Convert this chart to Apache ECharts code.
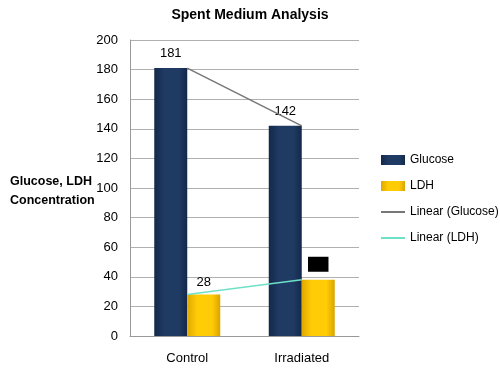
<!DOCTYPE html>
<html>
<head>
<meta charset="utf-8">
<script src="https://cdn.jsdelivr.net/npm/echarts@6/dist/echarts.min.js"></script>
<style>
  html, body { margin: 0; padding: 0; background: #fff; }
  #chart { width: 500px; height: 370px; }
</style>
</head>
<body>
<div id="chart"></div>
<script>
const categories = ['Control', 'Irradiated'];
const glucose = [181, 142];
const ldh = [28, 38];
const glucoseTrend = [181, 142];
const ldhTrend = [28, 38];

const chart = echarts.init(document.getElementById('chart'));
const font = 'Liberation Sans, Arial, sans-serif';
const lineIcon = 'path://M0,0 L24,0 L24,2 L0,2 Z';

const option = {
    backgroundColor: '#fff',
    title: {
        text: 'Spent Medium Analysis',
        left: 'center',
        top: 3,
        textStyle: { fontFamily: font, fontSize: 14, fontWeight: 'bold', color: '#000' }
    },
    graphic: [{
        type: 'text',
        left: 10,
        top: 172,
        style: {
            text: 'Glucose, LDH\nConcentration',
            font: 'bold 12.5px ' + font,
            fill: '#000',
            align: 'center',
            lineHeight: 19
        }
    }],
    legend: {
        orient: 'vertical',
        left: 376,
        top: 149,
        itemGap: 14,
        itemWidth: 24,
        itemHeight: 10,
        textStyle: { fontFamily: font, fontSize: 12, color: '#000' },
        data: [
            { name: 'Glucose', icon: 'rect' },
            { name: 'LDH', icon: 'rect' },
            { name: 'Linear (Glucose)', icon: lineIcon, itemStyle: { color: '#777' } },
            { name: 'Linear (LDH)', icon: lineIcon, itemStyle: { color: '#6fe0c8' } }
        ]
    },
    grid: { left: 130, right: 141, top: 40, bottom: 34 },
    xAxis: {
        type: 'category',
        data: categories,
        axisLine: { lineStyle: { color: '#999' } },
        axisTick: { show: false },
        axisLabel: { color: '#000', fontFamily: font, fontSize: 13, margin: 16 }
    },
    yAxis: {
        type: 'value',
        min: 0,
        max: 200,
        interval: 20,
        axisLine: { show: true, lineStyle: { color: '#999' } },
        axisTick: { show: false },
        splitLine: { lineStyle: { color: '#b0b0b0' } },
        axisLabel: { color: '#000', fontFamily: font, fontSize: 13, margin: 12 }
    },
    series: [
        {
            name: 'Glucose',
            type: 'bar',
            barWidth: 33,
            barGap: '0%',
            data: glucose,
            itemStyle: {
                color: new echarts.graphic.LinearGradient(0, 0, 1, 0, [
                    { offset: 0, color: '#14294a' },
                    { offset: 0.3, color: '#1f3a63' },
                    { offset: 0.75, color: '#1f3a63' },
                    { offset: 1, color: '#14294a' }
                ])
            },
            label: { show: true, position: 'top', distance: 8, color: '#000', fontFamily: font, fontSize: 13 }
        },
        {
            name: 'LDH',
            type: 'bar',
            barWidth: 33,
            data: ldh,
            itemStyle: {
                color: new echarts.graphic.LinearGradient(0, 0, 1, 0, [
                    { offset: 0, color: '#e0a800' },
                    { offset: 0.3, color: '#ffcc05' },
                    { offset: 0.75, color: '#ffcc05' },
                    { offset: 1, color: '#d9a400' }
                ])
            },
            label: {
                show: true,
                position: 'top',
                distance: 6,
                color: '#000',
                fontFamily: font,
                fontSize: 13
            }
        },
        {
            name: 'Linear (Glucose)',
            type: 'line',
            data: glucoseTrend,
            symbol: 'none',
            lineStyle: { color: '#777', width: 1.5 },
            itemStyle: { color: '#777' },
            z: 5
        },
        {
            name: 'Linear (LDH)',
            type: 'line',
            data: ldhTrend,
            symbol: 'none',
            lineStyle: { color: '#6fe0c8', width: 1.5 },
            itemStyle: { color: '#6fe0c8' },
            z: 5
        }
    ]
};

// the second LDH label is blacked out in the reference
option.series[1].data = ldh.map((v, i) => i === 1 ? {
    value: v,
    label: { color: '#000', backgroundColor: '#000', padding: [1, 3], distance: 8 }
} : v);

chart.setOption(option);
</script>
</body>
</html>
